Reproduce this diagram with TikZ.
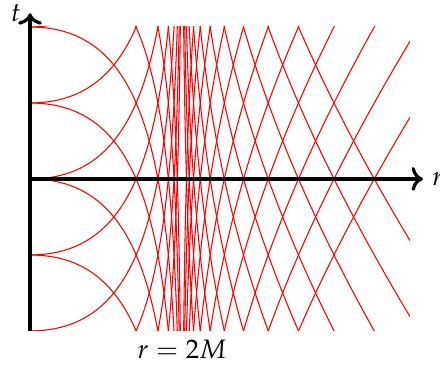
\documentclass[tikz,border=0pt]{standalone}
\usepackage{mathpazo}
\usetikzlibrary{arrows.meta}
\definecolor{ConeRed}{HTML}{FF0000}
\definecolor{AxisInk}{HTML}{000000}
\tikzset{
  sch/axis/.style={->, line width=1.2pt, draw=AxisInk},
  sch/ray/.style={line width=.4pt, draw=ConeRed},
  sch/label/.style={text=AxisInk}
}

\begin{document}
\begin{tikzpicture}[x=1cm,y=1cm]
  \useasboundingbox (-0.395,-2.447) rectangle (5.395,2.355);
  \begin{scope}
    \clip (0,-2) rectangle (5,2);
    \foreach \tc in {-5,...,5}{
      % inside r=2M
      \draw[sch/ray] plot[domain=-5.5:0,samples=150,variable=\v]
        ({2-2*exp(\v)},{\tc+2-2*exp(\v)+2*\v});
      \draw[sch/ray] plot[domain=-5.5:0,samples=150,variable=\v]
        ({2-2*exp(\v)},{\tc-2+2*exp(\v)-2*\v});
      % outside r=2M
      \draw[sch/ray] plot[domain=-5.5:0.41,samples=150,variable=\v]
        ({2+2*exp(\v)},{\tc+2+2*exp(\v)+2*\v});
      \draw[sch/ray] plot[domain=-5.5:0.41,samples=150,variable=\v]
        ({2+2*exp(\v)},{\tc-2-2*exp(\v)-2*\v});
    }
  \end{scope}
  \coordinate (origin) at (0,0);
  \coordinate (tbase) at (0,-2);
  \coordinate (ttip) at (0,2.18);
  \coordinate (rtip) at (5.17,0);
  \coordinate (horizon) at (2,-2);
  \draw[sch/axis] (tbase) -- (ttip);
  \draw[sch/axis] (origin) -- (rtip);
  \node[sch/label,left] (tlabel) at (ttip) {$t$};
  \node[sch/label,right] (rlabel) at (rtip) {$r$};
  \node[sch/label,below] (hlabel) at (horizon) {$r=2M$};
\end{tikzpicture}
\end{document}
